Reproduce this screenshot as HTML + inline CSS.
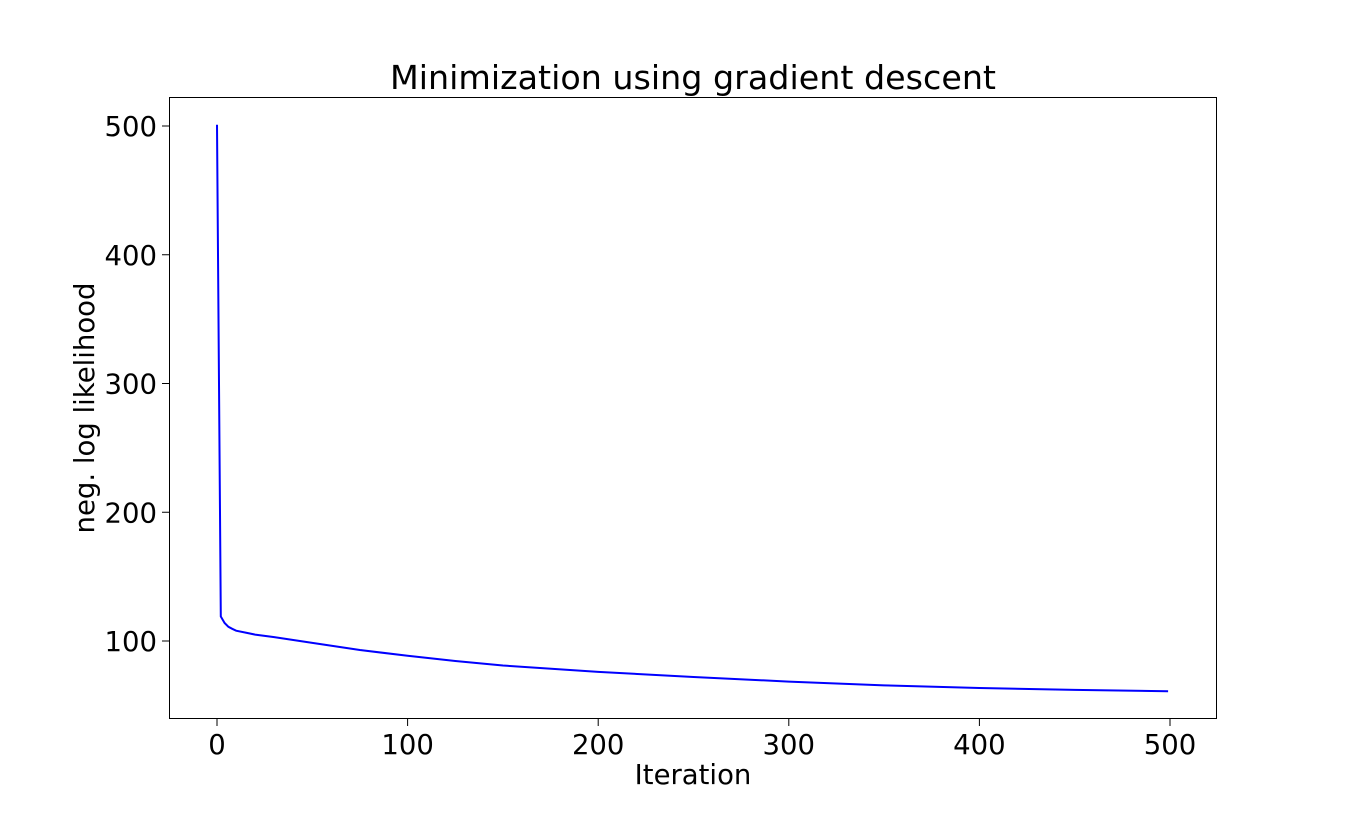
<!DOCTYPE html>
<html><head><meta charset="utf-8"><style>
body{margin:0;background:#fff;}
svg text{font-family:"DejaVu Sans","Liberation Sans",sans-serif;fill:#000;}
</style></head><body>
<svg id="chart" width="1352" height="808" xmlns="http://www.w3.org/2000/svg">
<rect width="1352" height="808" fill="#fff"/>
<text x="693" y="89" font-size="33" text-anchor="middle" textLength="606" lengthAdjust="spacingAndGlyphs">Minimization using gradient descent</text>
<text x="693" y="784" font-size="27.5" text-anchor="middle">Iteration</text>
<text transform="translate(94,408) rotate(-90)" font-size="27.5" text-anchor="middle">neg. log likelihood</text>
<g id="ticks"></g>
<path id="line" fill="none" stroke="#0000ff" stroke-width="2"/>
<rect x="169.5" y="97.5" width="1047" height="621" fill="none" stroke="#000" stroke-width="1"/>
</svg>
<script>
const iterations=[0,2,4,6,8,10,15,20,30,50,75,100,125,150,200,250,300,350,400,450,499];
const nll=[501,119,114,111,109.5,108,106.5,105,103,98.5,93,88.5,84.5,81,76,72,68.5,65.5,63.5,62,61];
const xTicks=[0,100,200,300,400,500];
const yTicks=[100,200,300,400,500];
const xs=v=>217+v*1.906;
const ys=v=>641-(v-100)*1.2875;
const g=document.getElementById('ticks');
const ns='http://www.w3.org/2000/svg';
xTicks.forEach(t=>{
 const l=document.createElementNS(ns,'line');
 
 
 l.setAttribute('x1',xs(t));l.setAttribute('x2',xs(t));l.setAttribute('y1',719);l.setAttribute('y2',726);l.setAttribute('stroke','#000');
 g.appendChild(l);
 const tx=document.createElementNS(ns,'text');
 
 
 tx.setAttribute('x',xs(t));tx.setAttribute('y',754);tx.setAttribute('font-size','27.5');tx.setAttribute('text-anchor','middle');
 tx.textContent=t;g.appendChild(tx);
});
yTicks.forEach(t=>{
 const l=document.createElementNS(ns,'line');
 
 
 l.setAttribute('x1',162);l.setAttribute('x2',169);l.setAttribute('y1',ys(t));l.setAttribute('y2',ys(t));l.setAttribute('stroke','#000');
 g.appendChild(l);
 const tx=document.createElementNS(ns,'text');
 
 
 tx.setAttribute('x',157);tx.setAttribute('y',ys(t)+10);tx.setAttribute('font-size','27.5');tx.setAttribute('text-anchor','end');
 tx.textContent=t;g.appendChild(tx);
});
document.getElementById('line').setAttribute('d',iterations.map((x,i)=>(i?'L':'M')+xs(x).toFixed(1)+','+ys(nll[i]).toFixed(1)).join(' '));
</script>
</body></html>
